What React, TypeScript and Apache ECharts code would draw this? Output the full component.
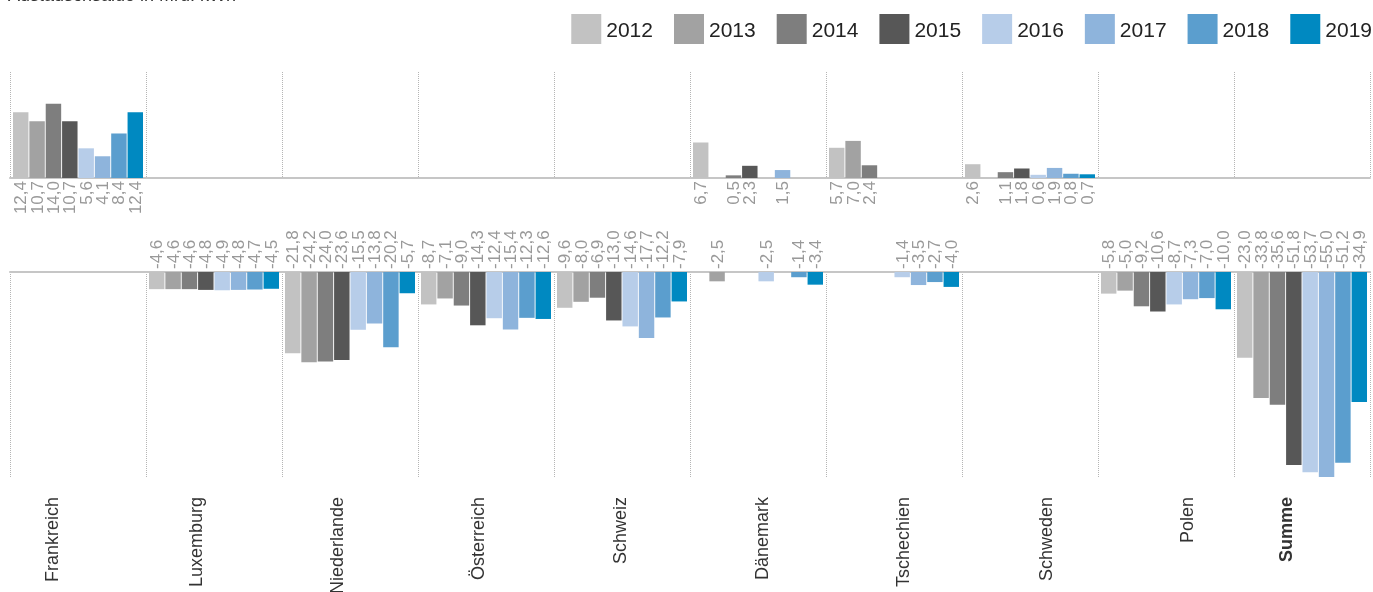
import React, { useEffect, useRef } from "react";
import * as echarts from "echarts";

const TITLE = "Austauschsaldo in Mrd. kWh";
const CATEGORIES = ["Frankreich", "Luxemburg", "Niederlande", "Österreich", "Schweiz", "Dänemark", "Tschechien", "Schweden", "Polen", "Summe"];
const YEARS = ["2012", "2013", "2014", "2015", "2016", "2017", "2018", "2019"];

const V2012 = [12.4, -4.6, -21.8, -8.7, -9.6, 6.7, 5.7, 2.6, -5.8, -23.0];
const V2013 = [10.7, -4.6, -24.2, -7.1, -8.0, -2.5, 7.0, null, -5.0, -33.8];
const V2014 = [14.0, -4.6, -24.0, -9.0, -6.9, 0.5, 2.4, 1.1, -9.2, -35.6];
const V2015 = [10.7, -4.8, -23.6, -14.3, -13.0, 2.3, null, 1.8, -10.6, -51.8];
const V2016 = [5.6, -4.9, -15.5, -12.4, -14.6, -2.5, -1.4, 0.6, -8.7, -53.7];
const V2017 = [4.1, -4.8, -13.8, -15.4, -17.7, 1.5, -3.5, 1.9, -7.3, -55.0];
const V2018 = [8.4, -4.7, -20.2, -12.3, -12.2, -1.4, -2.7, 0.8, -7.0, -51.2];
const V2019 = [12.4, -4.5, -5.7, -12.6, -7.9, -3.4, -4.0, 0.7, -10.0, -34.9];
const VALUES: (number | null)[][] = [V2012, V2013, V2014, V2015, V2016, V2017, V2018, V2019];

const COLORS = ["#c2c2c2", "#a2a2a2", "#7e7e7e", "#575757", "#b7cde9", "#8eb4dc", "#5b9ece", "#0089c1"];
// horizontal nudge of category labels (px), layout only
const LABEL_SHIFT = [-26, -18, -13, -8, -2, 4, 9, 16, 21, -16];

const fmt = (p: any) => {
  const v = Array.isArray(p.value) ? p.value[1] : p.value;
  if (v == null || v === "-") return "";
  return Number(v).toFixed(1).replace(".", ",");
};

export default function App() {
  const ref = useRef<HTMLDivElement>(null);
  useEffect(() => {
    if (!ref.current) return;
    const chart = echarts.init(ref.current, undefined, { renderer: "svg" });
    const font = "Liberation Sans, Arial, sans-serif";
    const labelCommon = {
      show: true,
      rotate: 90,
      verticalAlign: "middle",
      distance: 3,
      color: "#999999",
      fontSize: 17,
      fontFamily: font,
      formatter: fmt,
    };
    const series: any[] = [];
    YEARS.forEach((y, i) => {
      series.push({
        name: y,
        type: "bar",
        xAxisIndex: 0,
        yAxisIndex: 0,
        data: VALUES[i].map((v) => (v != null && v > 0 ? v : "-")),
        itemStyle: { color: COLORS[i] },
        barCategoryGap: "4.4%",
        barGap: "6%",
        label: { ...labelCommon, position: "bottom", align: "right" },
      });
      series.push({
        name: y,
        type: "bar",
        xAxisIndex: 1,
        yAxisIndex: 1,
        data: VALUES[i].map((v) => (v != null && v < 0 ? v : "-")),
        itemStyle: { color: COLORS[i] },
        barCategoryGap: "4.4%",
        barGap: "6%",
        label: { ...labelCommon, position: "top", align: "left" },
      });
    });
    const splitLine = { show: true, lineStyle: { color: "#b5b5b5", type: "dotted", width: 1 } };
    const baseLine = { show: true, onZero: false, lineStyle: { color: "#c6c6c6", width: 2 } };
    chart.setOption({
      animation: false,
      textStyle: { fontFamily: font },
      graphic: [
        {
          type: "text",
          left: 8,
          top: -14,
          style: { text: TITLE, fontSize: 18, fill: "#333333", fontFamily: font },
        },
      ],
      legend: {
        data: YEARS,
        top: 14,
        right: 1,
        padding: 0,
        itemWidth: 30,
        itemHeight: 30,
        itemGap: 21,
        icon: "rect",
        textStyle: { fontSize: 21, color: "#222222", fontFamily: font },
      },
      grid: [
        { left: 10, right: 3, top: 72, height: 106, outerBoundsMode: "none", containLabel: false },
        { left: 10, right: 3, top: 272, height: 205, outerBoundsMode: "none", containLabel: false },
      ],
      xAxis: [
        {
          type: "category",
          gridIndex: 0,
          data: CATEGORIES,
          position: "bottom",
          axisLine: baseLine,
          axisTick: { show: false },
          axisLabel: { show: false },
          splitLine,
        },
        {
          type: "category",
          gridIndex: 1,
          data: CATEGORIES,
          position: "top",
          axisLine: baseLine,
          axisTick: { show: false },
          axisLabel: { show: false },
          splitLine,
        },
        {
          type: "category",
          gridIndex: 1,
          position: "bottom",
          data: CATEGORIES.map((c, i) => {
            const s = LABEL_SHIFT[i];
            return {
              value: c,
              textStyle: {
                fontWeight: c === "Summe" ? "bold" : "normal",
                verticalAlign: s > 0 ? "top" : "bottom",
                lineHeight: Math.max(1, 2 * Math.abs(s)),
              },
            };
          }),
          axisLine: { show: false, onZero: false },
          axisTick: { show: false },
          axisLabel: { rotate: 90, margin: 20, fontSize: 18, color: "#333333", fontFamily: font, interval: 0 },
          splitLine: { show: false },
        },
      ],
      yAxis: [
        { type: "value", gridIndex: 0, min: 0, max: 20, show: false, splitLine: { show: false } },
        { type: "value", gridIndex: 1, min: -55, max: 0, show: false, splitLine: { show: false } },
      ],
      series,
    });
    return () => chart.dispose();
  }, []);
  return <div ref={ref} style={{ position: "fixed", left: 0, top: 0, width: 1373, height: 592 }} />;
}
